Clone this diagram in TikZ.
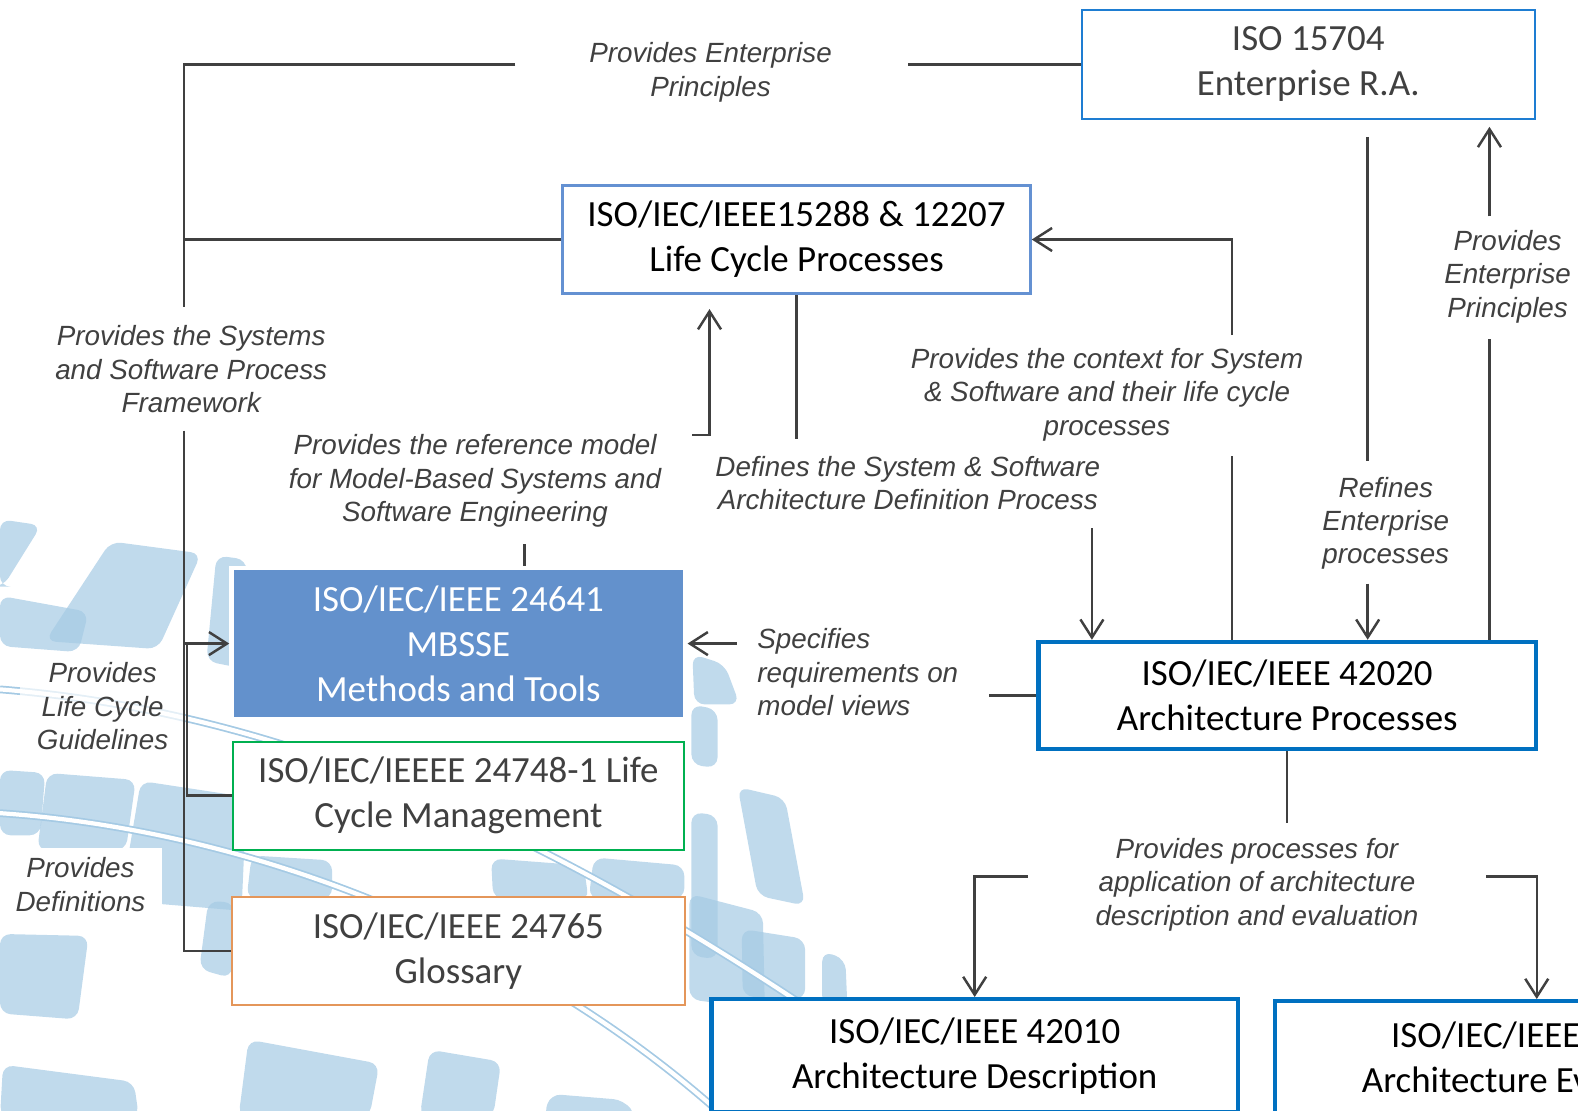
\documentclass[tikz,border=0pt]{standalone}
\usepackage{fontspec}
\setmainfont{Carlito}
\newfontfamily\labelfont{Liberation Sans}
\usetikzlibrary{arrows.meta}
\usetikzlibrary{positioning}
\usetikzlibrary{shadows}
\definecolor{linkgray}{RGB}{64,64,64}
\definecolor{textgray}{RGB}{64,64,64}
\definecolor{isoblue}{RGB}{30,125,210}
\definecolor{lcpblue}{RGB}{100,145,210}
\definecolor{mbsseblue}{RGB}{99,145,204}
\definecolor{lcmgreen}{RGB}{0,176,80}
\definecolor{glossorange}{RGB}{228,150,90}
\definecolor{archblue}{RGB}{0,112,192}
\definecolor{tileblue}{RGB}{165,202,228}
\tikzstyle{every box} = [fill=white, align=center, inner sep=0pt, font=\fontsize{10.5}{12.8}\selectfont]
\tikzstyle{box} = [rectangle, draw, every box]
\tikzstyle{link} = [draw=linkgray, line width=0.7pt, >={Straight Barb[length=1.8mm,width=2.3mm]}]
\tikzstyle{linktext} = [align=center, text=textgray, fill=white, inner xsep=0.17cm, inner ysep=0.1cm, font=\labelfont\itshape\fontsize{7.9}{9.5}\selectfont]
\tikzstyle{tile} = [fill=tileblue, fill opacity=0.7, rounded corners=3pt]
\tikzstyle{swoosh} = [draw=tileblue, line width=0.5pt, double=white, double distance=1.2pt]

\begin{document}
\begin{tikzpicture}[x=0.01006cm, y=-0.01006cm]
  \useasboundingbox (0,0) rectangle (1568,1103);
  \clip (0,0) rectangle (1568,1103);
  % background globe
  \foreach \xa/\ya/\xb/\yb/\xc/\yc/\xd/\yd in {
      0/516/41/522/3/583/0/583, 110/538/200/550/157/645/45/637,
      0/592/88/608/78/648/0/642, 215/552/245/556/245/665/205/657,
      0/765/45/768/40/830/0/830, 47/768/135/775/125/845/37/845,
      140/776/245/792/240/905/120/895, 0/928/88/930/77/1013/0/1007,
      3/1058/133/1075/138/1110/0/1110, 247/1033/377/1057/367/1110/237/1110,
      207/895/233/897/230/972/198/963, 427/1043/498/1055/490/1110/417/1110,
      547/1087/620/1093/633/1110/540/1110, 250/850/330/855/330/893/245/893,
      488/853/580/860/585/895/490/893, 590/852/680/860/680/893/585/893,
      685/888/758/907/760/1003/685/993, 737/923/800/933/800/993/738/990,
      687/700/713/705/713/763/687/760, 733/782/780/793/800/900/753/890,
      687/807/713/810/713/953/687/950, 817/945/840/953/842/1000/817/1000,
      688/650/720/660/735/700/690/700}
    \fill[tile] (\xa,\ya) -- (\xb,\yb) -- (\xc,\yc) -- (\xd,\yd) -- cycle;
  \draw[swoosh] (0,685) .. controls (250,705) and (500,800) .. (800,1000);
  \draw[swoosh] (0,808) .. controls (250,825) and (520,930) .. (720,1110);

  % standards
  \node[box, draw=isoblue, line width=0.5pt, text=textgray, minimum width=4.53cm, minimum height=1.09cm] (iso) at (1300,64) {ISO 15704\\Enterprise R.A.};
  \node[box, draw=lcpblue, line width=0.86pt, minimum width=4.67cm, minimum height=1.08cm] (lcp) at (791.5,238) {ISO/IEC/IEEE15288 \& 12207\\Life Cycle Processes};
  \node[box, draw=white, fill=mbsseblue, line width=1.4pt, text=white, minimum width=4.53cm, minimum height=1.51cm, drop shadow={shadow xshift=0.4pt, shadow yshift=-0.8pt, opacity=0.35}] (mbsse) at (455.5,639.5) {ISO/IEC/IEEE 24641\\MBSSE\\Methods and Tools};
  \node[box, draw=lcmgreen, line width=0.6pt, text=textgray, minimum width=4.51cm, minimum height=1.08cm] (lcm) [below=0.19cm of mbsse] {ISO/IEC/IEEEE 24748-1 Life\\Cycle Management};
  \node[box, draw=glossorange, line width=0.6pt, text=textgray, minimum width=4.52cm, minimum height=1.08cm] (glossary) [below=0.45cm of lcm] {ISO/IEC/IEEE 24765\\Glossary};
  \node[box, draw=archblue, line width=1.2pt, minimum width=4.97cm, minimum height=1.07cm] (arch) at (1279,691) {ISO/IEC/IEEE 42020\\Architecture Processes};
  \node[box, draw=archblue, line width=1.2pt, minimum width=5.26cm, minimum height=1.13cm] (desc) at (968.5,1049) {ISO/IEC/IEEE 42010\\Architecture Description};
  \node[box, draw=archblue, line width=1.2pt, minimum width=5.23cm, minimum height=1.13cm] (eval) at (1527,1051) {ISO/IEC/IEEE 42030\\Architecture Evaluation};

  % relation texts
  \node[linktext] (entNote) at (706,72) {Provides Enterprise\\Principles};
  \node[linktext] (frameNote) at (190,367) {Provides the Systems\\and Software Process\\Framework};
  \node[linktext] (refNote) at (472,478) {Provides the reference model\\for Model-Based Systems and\\Software Engineering};
  \node[linktext] (defNote) at (902,480) {Defines the System \& Software\\Architecture Definition Process};
  \node[linktext] (ctxNote) at (1100,392) {Provides the context for System\\\& Software and their life cycle\\processes};
  \node[linktext] (refineNote) at (1377,520) {Refines\\Enterprise\\processes};
  \node[linktext] (ent2Note) at (1498,275) {Provides\\Enterprise\\Principles};
  \node[linktext, align=left, anchor=west] (specNote) at (735,668) {Specifies\\requirements on\\model views};
  \node[linktext, fill opacity=0.7, text opacity=1] (guideNote) at (102,702) {Provides\\Life Cycle\\Guidelines};
  \node[linktext] (defsNote) at (80,879) {Provides\\Definitions};
  \node[linktext] (appNote) at (1249,879) {Provides processes for\\application of architecture\\description and evaluation};

  % gap ends of the connectors
  \coordinate (entR) at (902,64);
  \coordinate (entL) at (512,64);
  \coordinate (frameT) at (183,305);
  \coordinate (frameB) at (183,428);
  \coordinate (rail) at (186,639.5);
  \coordinate (refB) at (521,541);
  \coordinate (refR) at (688,432);
  \coordinate (refUp) at (705,307);
  \coordinate (defT) at (792,436);
  \coordinate (defB) at (1085,525);
  \coordinate (ctxB) at (1224,453);
  \coordinate (ctxT) at (1224,333);
  \coordinate (refineT) at (1359,135);
  \coordinate (refineM) at (1359,458);
  \coordinate (refineB) at (1359,580);
  \coordinate (ent2B) at (1480,337);
  \coordinate (ent2T) at (1480,215);
  \coordinate (specL) at (732,639.5);
  \coordinate (specR) at (983,691);
  \coordinate (appT) at (1279,818);
  \coordinate (appL) at (1021,871);
  \coordinate (appR) at (1477,871);

  \draw[link] (iso.west) -- (entR);
  \draw[link] (entL) -| (frameT);
  \draw[link] (frameB) |- (glossary.west);
  \draw[link] (lcp.west) -- (lcp.west -| frameT);
  \draw[link, ->] (mbsse.west -| frameT) -- (mbsse.west);
  \draw[link] (lcm.west) -| (rail);
  \draw[link] (mbsse.north -| refB) -- (refB);
  \draw[link, ->, shorten >=0.14cm] (refR) -| (lcp.south -| refUp);
  \draw[link] (lcp.south) -- (lcp.south |- defT);
  \draw[link, ->] (defB) -- (defB |- arch.north);
  \draw[link] (arch.north -| ctxB) -- (ctxB);
  \draw[link, ->] (ctxT) |- (lcp.east);
  \draw[link, shorten <=0.17cm] (iso.south -| refineT) -- (refineM);
  \draw[link, ->] (refineB) -- (refineB |- arch.north);
  \draw[link] (arch.north -| ent2B) -- (ent2B);
  \draw[link, ->, shorten >=0.07cm] (ent2T) -- (ent2T |- iso.south);
  \draw[link, ->] (specL) -- (mbsse.east);
  \draw[link] (arch.west) -- (specR);
  \draw[link] (arch.south) -- (appT);
  \draw[link, ->] (appL) -| (desc.north);
  \draw[link, ->] (appR) -| (eval.north);
\end{tikzpicture}
\end{document}
